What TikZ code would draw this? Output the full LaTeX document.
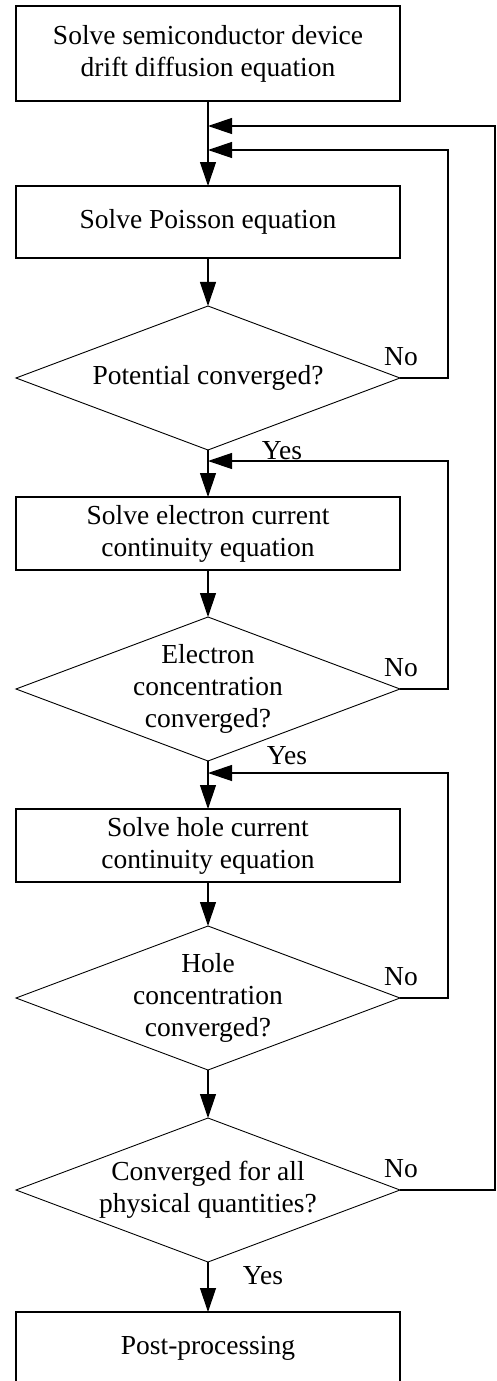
\documentclass[tikz,border=0pt]{standalone}
\usepackage{fontspec}
\setmainfont{Liberation Serif}
\usetikzlibrary{positioning,shapes.geometric,arrows.meta}

\begin{document}
\begin{tikzpicture}[
  x=1pt,
  y=-1pt,
  font=\fontsize{27.5}{32}\selectfont,
  proc/.style={
    rectangle,
    draw,
    line width=1.2pt,
    minimum width=384pt,
    minimum height=73pt,
    inner sep=0pt,
    outer sep=0pt,
    align=center
  },
  decision/.style={
    diamond,
    draw,
    line width=0.9pt,
    minimum width=384pt,
    minimum height=144pt,
    inner sep=0pt,
    outer sep=0pt
  },
  dtext/.style={
    align=center,
    inner sep=0pt
  },
  arr/.style={
    -{Triangle[length=24pt,width=16pt]},
    line width=1.2pt
  },
  lbl/.style={
    inner sep=0pt,
    anchor=base
  }
]

\useasboundingbox (0,0) rectangle (496,1381);

% =========================================================
% ETAPAS
% =========================================================

\node[proc, minimum height=95pt] (drift) at (208,53.5)
  {Solve semiconductor device\\drift diffusion equation};

\node[proc, minimum height=72pt] (poisson) at (208,222)
  {Solve Poisson equation};

\node[decision,
  label={[dtext]center:Potential converged?}] (potconv) at (208,378) {};

\node[proc] (elec) at (208,533.5)
  {Solve electron current\\continuity equation};

\node[decision,
  label={[dtext]center:Electron\\concentration\\converged?}] (elecconv) at (208,689) {};

\node[proc] (hole) at (208,845.5)
  {Solve hole current\\continuity equation};

\node[decision,
  label={[dtext]center:Hole\\concentration\\converged?}] (holeconv) at (208,998) {};

\node[decision,
  label={[dtext]center:Converged for all\\physical quantities?}] (allconv) at (208,1190) {};

\node[proc, minimum height=72pt] (post) at (208,1348)
  {Post-processing};

% --- Puntos de retorno ---

\coordinate (jall) at (208,126);
\coordinate (jpot) at (208,150);
\coordinate (jelec) at (208,461);
\coordinate (jhole) at (208,773);


% =========================================================
% CORRIENTE PRINCIPAL
% =========================================================

\draw[arr] (drift) -- (poisson);
\draw[arr] (poisson) -- (potconv);
\draw[arr] (potconv) -- (elec);
\draw[arr] (elec) -- (elecconv);
\draw[arr] (elecconv) -- (hole);
\draw[arr] (hole) -- (holeconv);
\draw[arr] (holeconv) -- (allconv);
\draw[arr] (allconv) -- (post);


% =========================================================
% BUCLES (NO)
% =========================================================

\draw[arr]
  (potconv.east) -- ++(48,0) |- (jpot);

\draw[arr]
  (elecconv.east) -- ++(48,0) |- (jelec);

\draw[arr]
  (holeconv.east) -- ++(48,0) |- (jhole);

\draw[arr]
  (allconv.east) -- ++(95,0) |- (jall);


% =========================================================
% ETIQUETAS
% =========================================================

\node[lbl] (no1) at (401,365) {No};
\node[lbl] (no2) at (401,676) {No};
\node[lbl] (no3) at (401,985) {No};
\node[lbl] (no4) at (401,1177) {No};

\node[lbl] (yes1) at (282,459) {Yes};
\node[lbl] (yes2) at (287,764) {Yes};
\node[lbl] (yes3) at (263,1284) {Yes};

\end{tikzpicture}
\end{document}
